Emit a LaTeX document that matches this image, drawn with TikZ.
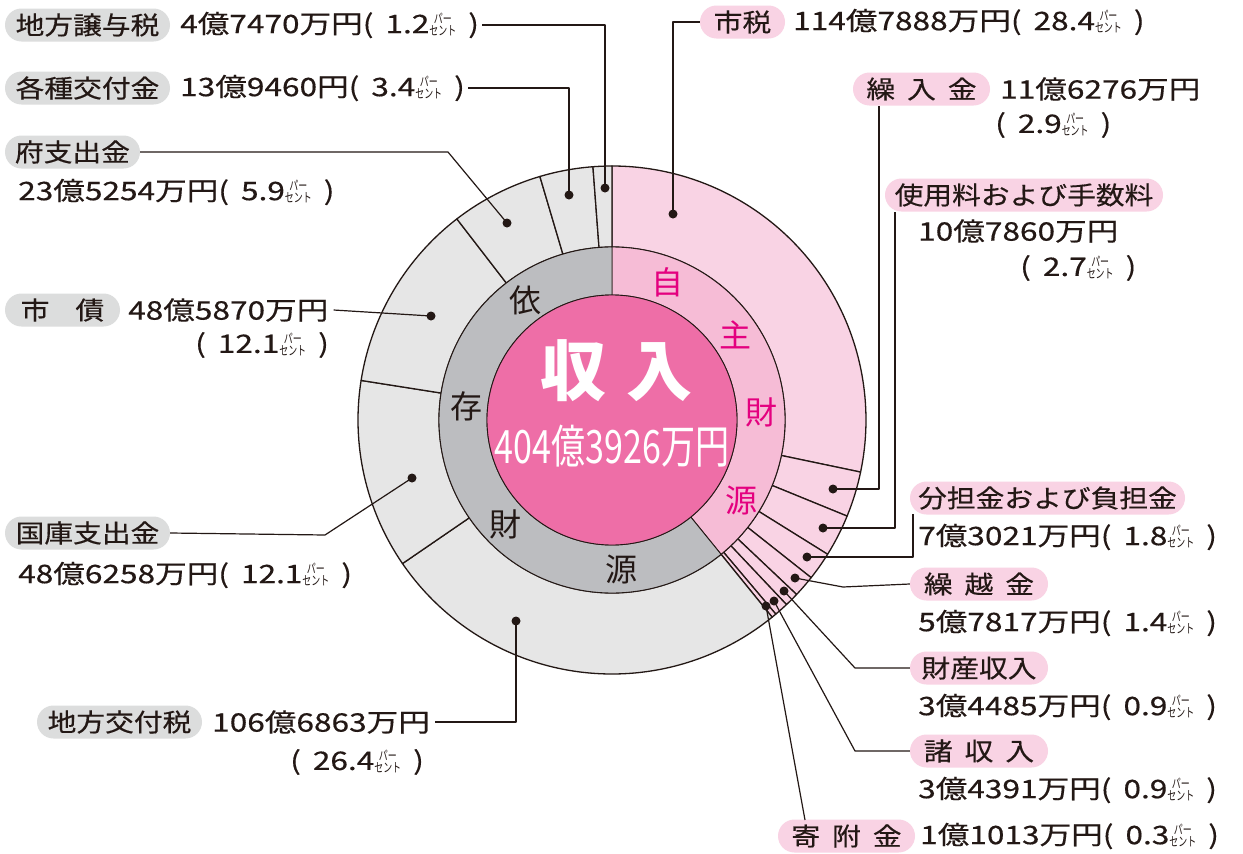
\documentclass[tikz,border=0pt]{standalone}
\usepackage{fontspec}
\usepackage{graphicx}
\setmainfont[FakeStretch=1.15,FakeBold=0.4]{Noto Sans CJK JP}
\newfontfamily\cjkn{Noto Sans CJK JP}
\newfontfamily\vfont[FakeStretch=1.24,FakeBold=0.4]{Noto Sans CJK JP}
\newfontfamily\cjkc[FakeStretch=0.74]{Noto Sans CJK JP}
\definecolor{ink}{HTML}{231815}
\definecolor{outpink}{HTML}{F9D3E4}
\definecolor{outgray}{HTML}{E6E6E6}
\definecolor{midpink}{HTML}{F6BCD6}
\definecolor{midgray}{HTML}{BCBDC0}
\definecolor{cenpink}{HTML}{EE6EA7}
\definecolor{pillpink}{HTML}{F9D3E4}
\definecolor{pillgray}{HTML}{DCDDDD}
\definecolor{magenta2}{HTML}{E4007F}
\newcommand\lbl{\fontsize{25}{28}\selectfont}
\newcommand\vlbl{\vfont\fontsize{25.5}{28}\selectfont}
\newcommand\sgap{\hspace{12pt}}
\newcommand\pct{\raisebox{-2.5pt}{\cjkn\fontsize{16}{12}\selectfont\scalebox{0.56}[0.8]{\shortstack[c]{パー\\セント}}}}
\newcommand\ringseg[5]{%
  \pgfmathsetmacro\aa{#1*3.58566-90}%
  \pgfmathsetmacro\ab{#2*3.58566-90}%
  \draw[fill=#5] ([shift={(\aa:#4)}]C) arc[start angle=\aa, end angle=\ab, radius=#4]
    -- ([shift={(\ab:#3)}]C) arc[start angle=\ab, end angle=\aa, radius=#3] -- cycle;}
\begin{document}
\begin{tikzpicture}[x=1pt,y=-1pt,line join=round,
  pp/.style={fill=pillpink, rounded corners=16.5pt, minimum height=33pt, inner sep=0pt, text=ink, font=\lbl},
  gp/.style={fill=pillgray, rounded corners=16.5pt, minimum height=33pt, inner sep=0pt, text=ink, font=\lbl},
  lab/.style={anchor=west, inner sep=0pt, text=ink, font=\vlbl},
  dot/.style={circle, fill=ink, inner sep=0pt, minimum size=9pt},
  lead/.style={draw=ink, line width=1.2pt},
  rtxt/.style={font=\cjkn\fontsize{32}{32}\selectfont, text=ink, inner sep=0pt},
  rtxtp/.style={font=\cjkn\fontsize{32}{32}\selectfont, text=magenta2, inner sep=0pt}]
\useasboundingbox (0,0) rectangle (1243,854);
\fill[white] (0,0) rectangle (1243,854);
\coordinate (C) at (612,420);
% outer ring
\begin{scope}[line width=1.3pt, draw=ink]
\ringseg{0}{28.4}{173}{254}{outpink}
\ringseg{28.4}{31.3}{173}{254}{outpink}
\ringseg{31.3}{34.0}{173}{254}{outpink}
\ringseg{34.0}{35.8}{173}{254}{outpink}
\ringseg{35.8}{37.2}{173}{254}{outpink}
\ringseg{37.2}{38.1}{173}{254}{outpink}
\ringseg{38.1}{39.0}{173}{254}{outpink}
\ringseg{39.0}{39.3}{173}{254}{outpink}
\ringseg{39.3}{65.7}{173}{254}{outgray}
\ringseg{65.7}{77.8}{173}{254}{outgray}
\ringseg{77.8}{89.9}{173}{254}{outgray}
\ringseg{89.9}{95.8}{173}{254}{outgray}
\ringseg{95.8}{99.2}{173}{254}{outgray}
\ringseg{99.2}{100.4}{173}{254}{outgray}
\end{scope}
% middle ring
\begin{scope}[line width=0.9pt, draw=ink]
\ringseg{0}{39.3}{125}{173}{midpink}
\ringseg{39.3}{100.4}{125}{173}{midgray}
\end{scope}
\draw[line width=0.9pt, draw=ink, fill=cenpink] (C) circle[radius=125];
% centre text
\node[text=white, font=\cjkn\bfseries\fontsize{66}{66}\selectfont, inner sep=0pt] (title) at (616,371) {収\hspace{20pt}入};
\node[text=white, font=\cjkc\fontsize{46}{46}\selectfont, inner sep=0pt] (total) at (612,446) {404億3926万円};
% ring words
\node[rtxt] (w1) at (525,300) {依};
\node[rtxt] (w2) at (466,406) {存};
\node[rtxt] (w3) at (505,524) {財};
\node[rtxt] (w4) at (621,569) {源};
\node[rtxtp] (w5) at (667,282) {自};
\node[rtxtp] (w6) at (735,335) {主};
\node[rtxtp] (w7) at (761,412) {財};
\node[rtxtp] (w8) at (741,500) {源};
% dots
\node[dot] (d1) at (605,188) {};
\node[dot] (d2) at (569,195) {};
\node[dot] (d3) at (507,223) {};
\node[dot] (d4) at (431,316) {};
\node[dot] (d5) at (412,478) {};
\node[dot] (d6) at (516,621) {};
\node[dot] (d7) at (673,214) {};
\node[dot] (d8) at (833,489) {};
\node[dot] (d9) at (823,528) {};
\node[dot] (d10) at (807,557) {};
\node[dot] (d11) at (795,578) {};
\node[dot] (d12) at (784,591) {};
\node[dot] (d13) at (774,601) {};
\node[dot] (d14) at (766,606) {};
% left labels
\node[gp, minimum width=165pt] (p1) at (87.5,25) {地方譲与税};
\node[lab] (t1) at (180,25) {4億7470万円(\sgap1.2\pct\sgap)};
\node[gp, minimum width=165pt] (p2) at (87.5,88) {各種交付金};
\node[lab] (t2) at (180,88) {13億9460円(\sgap3.4\pct\sgap)};
\node[gp, minimum width=135pt] (p3) at (72.5,152) {府支出金};
\node[lab] (t3) at (18,192) {23億5254万円(\sgap5.9\pct\sgap)};
\node[gp, minimum width=115pt] (p4) at (62.5,310) {市\hspace{26pt}債};
\node[lab] (t4a) at (128,310) {48億5870万円};
\node[lab] (t4b) at (195,345) {(\sgap12.1\pct\sgap)};
\node[gp, minimum width=165pt] (p5) at (87.5,533) {国庫支出金};
\node[lab] (t5) at (18,575) {48億6258万円(\sgap12.1\pct\sgap)};
\node[gp, minimum width=165pt] (p6) at (119.5,722) {地方交付税};
\node[lab] (t6a) at (212,722) {106億6863万円};
\node[lab] (t6b) at (290,762) {(\sgap26.4\pct\sgap)};
% right labels
\node[pp, minimum width=85pt] (p7) at (742.5,22) {市税};
\node[lab] (t7) at (793,22) {114億7888万円(\sgap28.4\pct\sgap)};
\node[pp, minimum width=137pt] (p8) at (921.5,89) {繰\hspace{12pt}入\hspace{12pt}金};
\node[lab] (t8a) at (1000,89) {11億6276万円};
\node[lab] (t8b) at (995,125) {(\sgap2.9\pct\sgap)};
\node[pp, minimum width=278pt] (p9) at (1024,195) {使用料および手数料};
\node[lab] (t9a) at (918,231) {10億7860万円};
\node[lab] (t9b) at (1020,268) {(\sgap2.7\pct\sgap)};
\node[pp, minimum width=275pt] (p10) at (1047.5,498) {分担金および負担金};
\node[lab] (t10) at (918,537) {7億3021万円(\sgap1.8\pct\sgap)};
\node[pp, minimum width=138pt] (p11) at (979,584) {繰\hspace{12pt}越\hspace{12pt}金};
\node[lab] (t11) at (918,623) {5億7817万円(\sgap1.4\pct\sgap)};
\node[pp, minimum width=138pt] (p12) at (979,668) {財産収入};
\node[lab] (t12) at (918,707) {3億4485万円(\sgap0.9\pct\sgap)};
\node[pp, minimum width=138pt] (p13) at (979,751) {諸\hspace{12pt}収\hspace{12pt}入};
\node[lab] (t13) at (918,790) {3億4391万円(\sgap0.9\pct\sgap)};
\node[pp, minimum width=137pt] (p14) at (846.5,836) {寄\hspace{12pt}附\hspace{12pt}金};
\node[lab] (t14) at (920,836) {1億1013万円(\sgap0.3\pct\sgap)};
% bend coordinates
\coordinate (b3) at (448,152);
\coordinate (b5) at (325,535);
\coordinate (e8) at (879,106);
\coordinate (e9) at (895,212);
\coordinate (e10) at (913,514);
\coordinate (b11) at (843,587);
\coordinate (b12) at (855,668);
\coordinate (b13) at (855,751);
\coordinate (e14) at (805,820);
% leaders
\draw[lead] ([xshift=3pt]t1.east) -| (d1.center);
\draw[lead] ([xshift=3pt]t2.east) -| (d2.center);
\draw[lead] (p3.east) -- (b3) -- (d3.center);
\draw[lead] ([xshift=5pt]t4a.east) -- (d4.center);
\draw[lead] (p5.east) -- (b5) -- (d5.center);
\draw[lead] ([xshift=5pt]t6a.east) -| (d6.center);
\draw[lead] (p7.west) -| (d7.center);
\draw[lead] (d8.center) -| (e8);
\draw[lead] (d9.center) -| (e9);
\draw[lead] (d10.center) -| (e10);
\draw[lead] (d11.center) -- (b11) -- (p11.west);
\draw[lead] (d12.center) -- (b12) -- (p12.west);
\draw[lead] (d13.center) -- (b13) -- (p13.west);
\draw[lead] (d14.center) -- (e14);
\end{tikzpicture}
\end{document}
